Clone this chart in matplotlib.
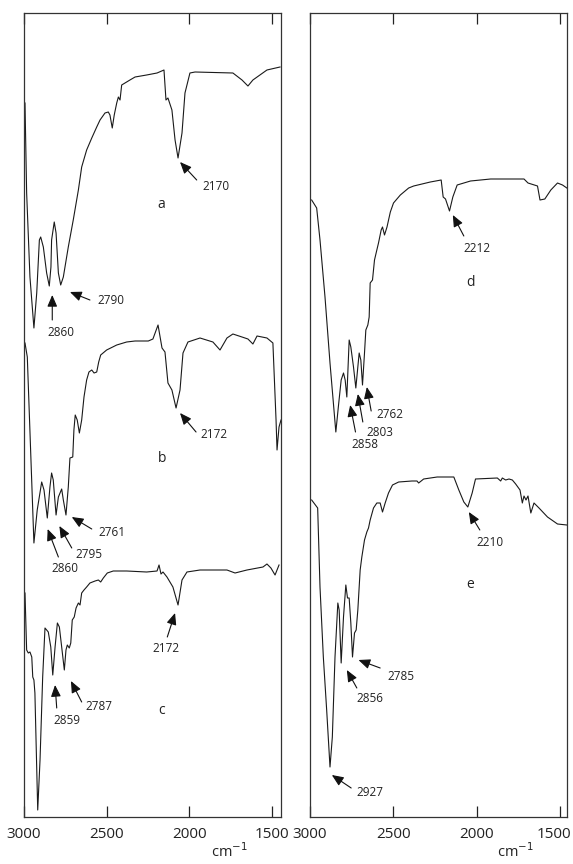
import matplotlib
matplotlib.use('Agg')
import matplotlib.pyplot as plt
import matplotlib.transforms as mtransforms

plt.rcParams['font.family'] = ['Open Sans', 'DejaVu Sans']

# wavenumber (cm-1) and offset transmittance (a.u.)
wn_a = [2994, 2984, 2964, 2940, 2923, 2907, 2899, 2883, 2863, 2847, 2837, 2833,
        2817, 2806, 2792, 2778, 2762, 2732, 2702, 2671, 2651, 2621, 2590, 2560,
        2540, 2510, 2490, 2480, 2466, 2454, 2439, 2429, 2419, 2409, 2389, 2359,
        2328, 2258, 2195, 2153, 2141, 2129, 2105, 2086, 2068, 2044, 2026, 1996,
        1965, 1736, 1681, 1645, 1615, 1530, 1451]
tr_a = [761, 671, 587, 536, 571, 624, 627, 617, 591, 578, 597, 624,
        642, 631, 591, 579, 587, 617, 644, 674, 697, 714, 726, 737,
        744, 751, 752, 749, 736, 749, 761, 767, 764, 779, 781, 784,
        787, 789, 791, 794, 764, 766, 754, 724, 706, 731, 771, 791,
        792, 791, 784, 778, 784, 794, 797]

wn_b = [2994, 2980, 2940, 2920, 2893, 2879, 2859, 2843, 2833, 2823, 2806, 2792,
        2772, 2762, 2746, 2732, 2722, 2705, 2698, 2690, 2678, 2665, 2651, 2637,
        2621, 2607, 2590, 2576, 2560, 2548, 2536, 2500, 2439, 2379, 2328, 2248,
        2220, 2189, 2165, 2147, 2129, 2105, 2080, 2056, 2038, 2008, 1935, 1857,
        1814, 1772, 1736, 1681, 1645, 1615, 1590, 1530, 1494, 1475, 1469, 1457,
        1445]
tr_b = [521, 507, 321, 354, 382, 374, 346, 377, 391, 384, 349, 367,
        375, 364, 349, 377, 406, 407, 434, 449, 444, 431, 444, 467,
        484, 492, 494, 491, 492, 502, 509, 514, 519, 522, 523, 523,
        525, 539, 516, 512, 481, 474, 456, 474, 511, 522, 526, 522,
        514, 526, 530, 527, 525, 520, 528, 526, 521, 444, 414, 437,
        444]

wn_c = [2994, 2984, 2974, 2964, 2953, 2947, 2940, 2934, 2917, 2903, 2887, 2873,
        2853, 2838, 2826, 2812, 2798, 2786, 2772, 2756, 2746, 2738, 2726, 2717,
        2708, 2696, 2685, 2671, 2661, 2651, 2637, 2621, 2601, 2570, 2550, 2536,
        2520, 2496, 2460, 2379, 2258, 2195, 2183, 2171, 2159, 2135, 2099, 2068,
        2044, 2014, 1935, 1772, 1723, 1651, 1554, 1530, 1506, 1481, 1457]
tr_c = [271, 214, 211, 212, 207, 187, 184, 171, 54, 104, 187, 236,
        232, 217, 189, 217, 241, 237, 217, 194, 214, 219, 216, 221,
        244, 247, 256, 261, 259, 271, 274, 277, 281, 283, 284, 282,
        286, 291, 293, 293, 292, 293, 299, 290, 292, 287, 277, 259,
        284, 292, 294, 294, 291, 294, 297, 300, 296, 289, 299]

wn_d = [2990, 2960, 2940, 2910, 2880, 2845, 2830, 2813, 2799, 2789, 2779, 2765,
        2755, 2739, 2725, 2705, 2695, 2685, 2673, 2665, 2653, 2645, 2639, 2625,
        2613, 2599, 2589, 2573, 2565, 2553, 2538, 2518, 2499, 2458, 2408, 2378,
        2278, 2213, 2201, 2187, 2163, 2143, 2117, 2037, 1916, 1716, 1692, 1635,
        1620, 1591, 1555, 1515, 1485, 1459]
tr_d = [664, 656, 624, 567, 501, 432, 457, 484, 491, 484, 467, 524,
        517, 497, 476, 511, 504, 479, 511, 534, 539, 547, 581, 584,
        604, 614, 621, 634, 637, 629, 637, 652, 661, 669, 676, 678,
        682, 684, 667, 665, 653, 667, 679, 683, 685, 685, 681, 678,
        664, 665, 674, 681, 679, 676]

wn_e = [2990, 2954, 2940, 2920, 2900, 2880, 2866, 2850, 2833, 2825, 2813, 2799,
        2785, 2775, 2765, 2755, 2745, 2733, 2723, 2713, 2699, 2689, 2673, 2659,
        2649, 2639, 2619, 2599, 2579, 2565, 2549, 2529, 2505, 2468, 2388, 2358,
        2348, 2318, 2237, 2137, 2107, 2077, 2053, 2027, 2007, 1876, 1856, 1846,
        1826, 1806, 1786, 1766, 1740, 1726, 1716, 1704, 1692, 1675, 1656, 1626,
        1575, 1515, 1459]
tr_e = [364, 356, 277, 207, 154, 97, 127, 207, 261, 254, 201, 247,
        279, 266, 266, 241, 207, 231, 234, 254, 294, 307, 324, 332,
        336, 344, 356, 361, 361, 352, 361, 371, 379, 382, 383, 383,
        381, 385, 387, 387, 374, 362, 357, 371, 385, 386, 383, 386,
        384, 385, 384, 380, 374, 361, 368, 364, 368, 351, 361, 356,
        347, 340, 339]

# peak labels: (text, text x, text y, arrow tip x, tip y, tail x, tail y)
notes_left = [
    ("2170", 1840, 677, 2056, 702, 1955, 684),
    ("2790", 2474, 563, 2722, 572, 2601, 564),
    ("2860", 2776, 532, 2829, 569, 2829, 544),
    ("2172", 1849, 429, 2056, 451, 1959, 432),
    ("2761", 2466, 332, 2711, 347, 2590, 335),
    ("2795", 2605, 310, 2786, 338, 2711, 316),
    ("2860", 2752, 296, 2857, 335, 2792, 307),
    ("2172", 2143, 215, 2086, 251, 2133, 227),
    ("2787", 2546, 157, 2716, 183, 2651, 162),
    ("2859", 2742, 143, 2812, 179, 2802, 156),
]
notes_right = [
    ("2212", 2001, 616, 2143, 649, 2077, 628),
    ("2762", 2518, 449, 2659, 477, 2633, 453),
    ("2803", 2579, 432, 2713, 470, 2683, 442),
    ("2858", 2669, 420, 2759, 459, 2727, 432),
    ("2210", 1922, 321, 2047, 352, 1981, 334),
    ("2785", 2452, 188, 2709, 204, 2579, 196),
    ("2856", 2639, 165, 2779, 194, 2719, 176),
    ("2927", 2643, 72, 2869, 89, 2753, 76),
]
letters_left = [("a", 2167, 659), ("b", 2163, 405), ("c", 2167, 154)]
letters_right = [("d", 2037, 582), ("e", 2041, 279)]

fig = plt.figure(figsize=(5.73, 8.64), dpi=100)
ax1 = fig.add_axes([24 / 573, 47 / 864, 257 / 573, 804 / 864])
ax2 = fig.add_axes([310 / 573, 47 / 864, 257 / 573, 804 / 864])

LINE = '#1a1a1a'


def setup(ax, x_right):
    ax.set_xlim(3000, x_right)
    ax.set_ylim(47, 851)
    ax.set_xticks([3000, 2500, 2000, 1500])
    ax.set_xticklabels(['3000', '2500', '2000', '1500'])
    ax.set_yticks([])
    ax.tick_params(axis='x', direction='in', length=8, width=0.9, top=True,
                   labelsize=11, pad=7, colors='#222222')
    for sp in ax.spines.values():
        sp.set_linewidth(0.9)
        sp.set_color('#333333')
    ax.text(0.8, -0.031, r'cm$^{-1}$', transform=ax.transAxes, ha='center',
            va='top', fontsize=10.5, color='#222222')


def annotate(ax, notes, letters):
    for txt, tx, ty, hx, hy, sx, sy in notes:
        ax.annotate('', xy=(hx, hy), xytext=(sx, sy),
                    arrowprops=dict(arrowstyle='-|>,head_length=0.7,head_width=0.3',
                                    color='#111111', lw=0.8, shrinkA=0, shrinkB=0,
                                    mutation_scale=10))
        ax.text(tx, ty, txt, ha='center', va='center', fontsize=8.5, color='#222222')
    for txt, tx, ty in letters:
        ax.text(tx, ty, txt, ha='center', va='center', fontsize=10, color='#222222')


setup(ax1, 1445)
setup(ax2, 1458)

# last tick label on the right panel sits a little left of its tick
lbl = ax2.get_xticklabels()[-1]
lbl.set_transform(lbl.get_transform() +
                  mtransforms.ScaledTranslation(-6 / 100, 0, fig.dpi_scale_trans))

for wn, tr in [(wn_a, tr_a), (wn_b, tr_b), (wn_c, tr_c)]:
    ax1.plot(wn, tr, color=LINE, lw=0.8)
for wn, tr in [(wn_d, tr_d), (wn_e, tr_e)]:
    ax2.plot(wn, tr, color=LINE, lw=0.8)

annotate(ax1, notes_left, letters_left)
annotate(ax2, notes_right, letters_right)

fig.savefig('out.png', dpi=100)
